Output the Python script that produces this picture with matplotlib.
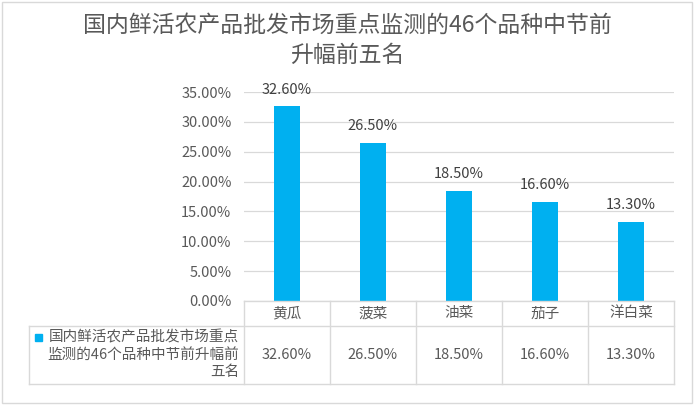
import matplotlib
matplotlib.use("Agg")
import matplotlib.pyplot as plt
from matplotlib.lines import Line2D
from matplotlib.patches import Rectangle

plt.rcParams['font.family'] = ['Noto Sans CJK SC', 'DejaVu Sans']

title = "国内鲜活农产品批发市场重点监测的46个品种中节前\n升幅前五名"
series_name = "国内鲜活农产品批发市场重点\n监测的46个品种中节前升幅前\n五名"
categories = ["黄瓜", "菠菜", "油菜", "茄子", "洋白菜"]
values = [32.6, 26.5, 18.5, 16.6, 13.3]
yticks = [0, 5, 10, 15, 20, 25, 30, 35]

W, H = 694, 405
bar_color = "#00B0F0"
text_color = "#595959"
grid_color = "#D9D9D9"

fig = plt.figure(figsize=(W / 100, H / 100), dpi=100)

def fx(px):
    return px / W

def fy(py):
    return 1 - py / H

# plot area
x0, x1, ytop, ybot = 244, 674, 92, 301
ax = fig.add_axes([fx(x0), fy(ybot), fx(x1 - x0), (ybot - ytop) / H])
n = len(categories)
ax.bar(range(n), values, width=0.31, color=bar_color, zorder=3)
ax.set_xlim(-0.5, n - 0.5)
ax.set_ylim(0, 35)
ax.set_yticks(yticks)
ax.set_yticklabels(["%.2f%%" % v for v in yticks], fontsize=10.5, color=text_color)
ax.set_xticks([])
ax.tick_params(axis='y', length=0, pad=9)
ax.grid(axis='y', color=grid_color, linewidth=0.9, zorder=0)
for s in ax.spines.values():
    s.set_visible(False)
for i, v in enumerate(values):
    ax.annotate("%.2f%%" % v, (i, v), xytext=(0, 7), textcoords="offset points",
                ha="center", va="bottom", fontsize=10.5, color="#404040")

# title
lines = title.split("\n")
fig.text(0.5, fy(25), lines[0], ha="center", va="center", fontsize=16.5, color=text_color)
fig.text(0.5, fy(55), lines[1], ha="center", va="center", fontsize=16.5, color=text_color)

# data table
col_w = (x1 - x0) / n
r0, r1, r2 = 301, 326, 384
lx = 29
def hline(xa, xb, y):
    fig.add_artist(Line2D([fx(xa), fx(xb)], [fy(y), fy(y)], color=grid_color, linewidth=1))
def vline(x, ya, yb):
    fig.add_artist(Line2D([fx(x), fx(x)], [fy(ya), fy(yb)], color=grid_color, linewidth=1))

hline(x0, x1, r0)
hline(lx, x1, r1)
hline(lx, x1, r2)
vline(lx, r1, r2)
for k in range(n + 1):
    vline(x0 + k * col_w, r0, r2)

for i, c in enumerate(categories):
    cx = x0 + (i + 0.5) * col_w
    fig.text(fx(cx), fy((r0 + r1) / 2), c, ha="center", va="center", fontsize=10.5, color=text_color)
    fig.text(fx(cx), fy((r1 + r2) / 2), "%.2f%%" % values[i], ha="center", va="center",
             fontsize=10.5, color=text_color)

fig.text(fx(x0 - 5), fy((r1 + r2) / 2), series_name, ha="right", va="center",
         fontsize=10.5, color=text_color, linespacing=1.3, multialignment="right")
fig.add_artist(Rectangle((fx(35), fy(341)), fx(7), 7 / H, color=bar_color))

# chart border
fig.add_artist(Rectangle((fx(1.5), fy(403)), fx(690), 401 / H, fill=False,
                         edgecolor=grid_color, linewidth=1))

fig.savefig("out.png", dpi=100)
